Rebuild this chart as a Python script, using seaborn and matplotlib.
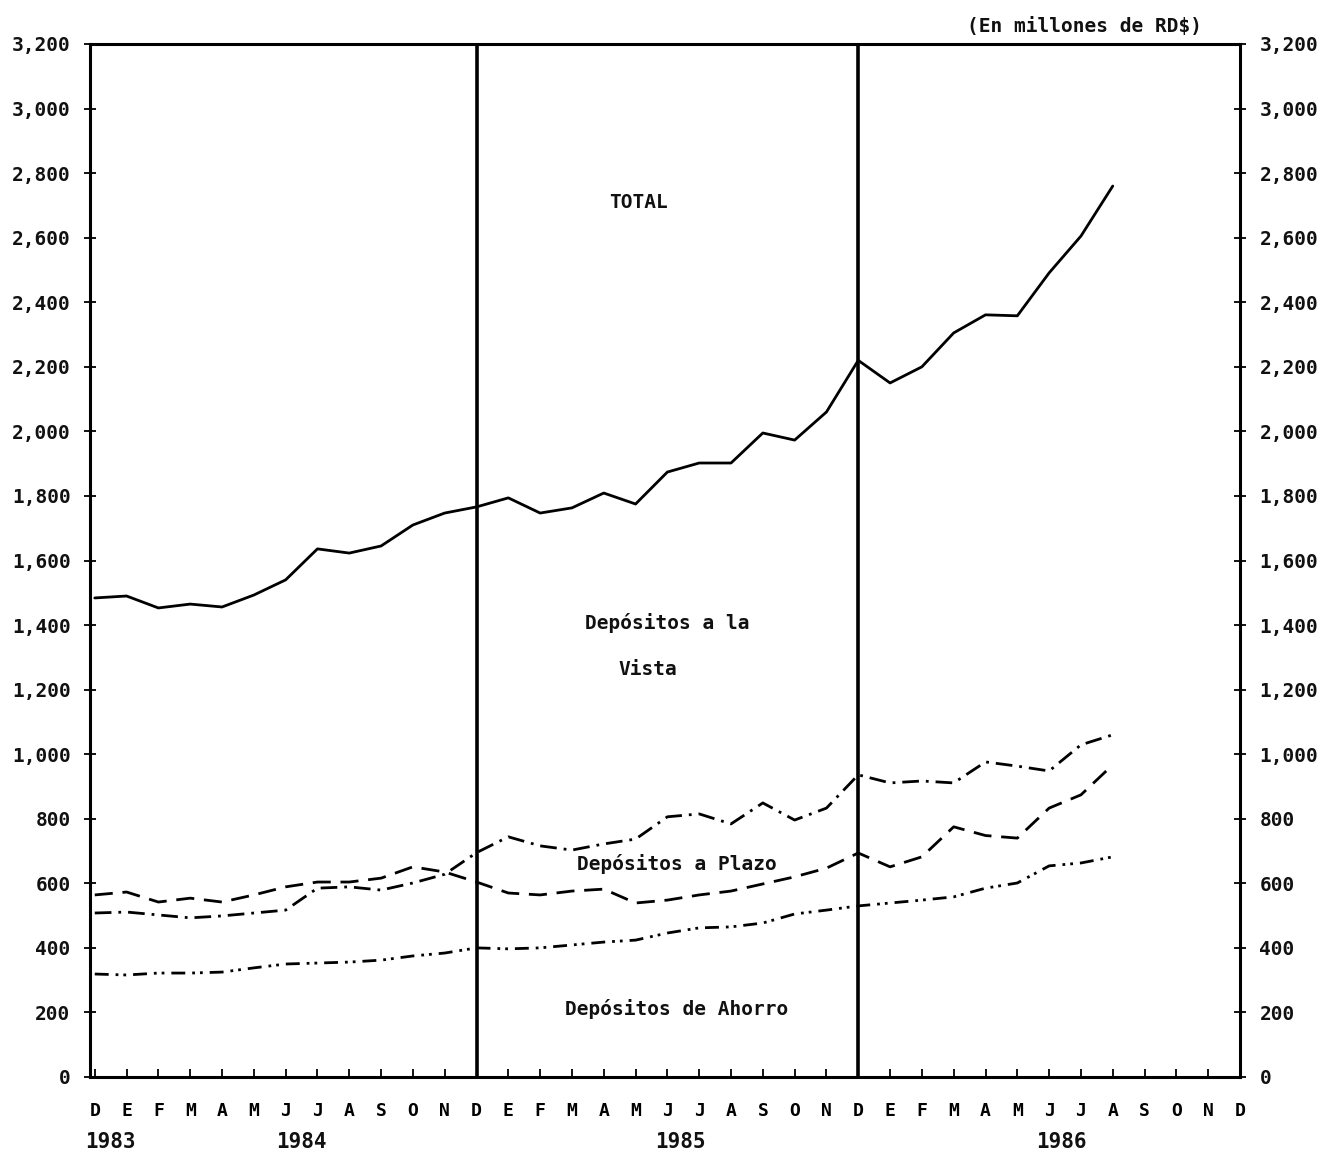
import matplotlib
matplotlib.use("Agg")
import matplotlib.pyplot as plt
import matplotlib.transforms as mtransforms
import seaborn as sns
import pandas as pd
import numpy as np

# ---- data (millions RD$), monthly Dec 1983 .. Aug 1986 ----
month_labels = ['D'] + ['E', 'F', 'M', 'A', 'M', 'J', 'J', 'A', 'S', 'O', 'N', 'D'] * 3
year_labels = ['1983', '1984', '1985', '1986']

total = [1484, 1490, 1453, 1465, 1456, 1493, 1540, 1636, 1623, 1645, 1710, 1747, 1766,
         1794, 1747, 1763, 1809, 1775, 1874, 1902, 1902, 1995, 1973, 2060, 2220,
         2150, 2200, 2305, 2361, 2358, 2491, 2605, 2760]
vista = [508, 511, 502, 493, 499, 508, 517, 585, 589, 579, 601, 628, 695,
         744, 716, 703, 722, 737, 806, 815, 784, 849, 796, 833, 936,
         911, 917, 911, 976, 963, 948, 1029, 1060]
plazo = [564, 573, 542, 554, 542, 564, 589, 604, 604, 616, 651, 635, 604,
         570, 564, 576, 582, 539, 548, 564, 576, 598, 620, 647, 694,
         651, 682, 775, 748, 740, 833, 874, 967]
ahorro = [319, 316, 322, 322, 325, 338, 350, 353, 356, 362, 375, 384, 400,
          397, 400, 409, 418, 424, 446, 462, 465, 477, 505, 517, 530,
          539, 548, 558, 585, 601, 654, 663, 682]
y_ticks = list(range(0, 3201, 200))

df = pd.DataFrame({'mes': np.arange(len(total)), 'total': total, 'vista': vista,
                   'plazo': plazo, 'ahorro': ahorro})

sns.set_theme(style='white')
plt.rcParams['font.family'] = ['DejaVu Sans Mono', 'DejaVu Sans']
plt.rcParams['font.weight'] = 'bold'

fig = plt.figure(figsize=(13.29, 11.57), dpi=100)
ax = fig.add_axes([90 / 1329, 1 - 1077 / 1157, 1150 / 1329, 1033 / 1157])

lw = 2.0
sns.lineplot(data=df, x='mes', y='total', ax=ax, color='black', lw=lw)
sns.lineplot(data=df, x='mes', y='vista', ax=ax, color='black', lw=lw,
             linestyle=(0, (6, 2.5, 1, 2.5)))
sns.lineplot(data=df, x='mes', y='plazo', ax=ax, color='black', lw=lw,
             linestyle=(0, (6.5, 3.5)))
sns.lineplot(data=df, x='mes', y='ahorro', ax=ax, color='black', lw=lw,
             linestyle=(0, (5, 2.5, 1, 1.8, 1, 2.5)))

# dividers between years
for xv in [12, 24]:
    ax.axvline(xv, color='black', lw=2.6)

ax.set_xlim(-0.15, 36)
ax.set_ylim(0, 3200)
ax.set_xlabel('')
ax.set_ylabel('')

ax.set_xticks(range(len(month_labels)))
ax.set_xticklabels(month_labels, fontsize=13, fontweight='bold')
ax.set_yticks(y_ticks)
ax.set_yticklabels([f'{v:,}' for v in y_ticks], fontsize=14, fontweight='bold')

ax.tick_params(axis='x', direction='in', length=6, width=1.3, pad=18, bottom=True, colors='black')
ax.tick_params(axis='y', direction='inout', length=8, width=1.3, left=True, right=True,
               labelleft=True, labelright=True, pad=10, colors='black')
for lab in ax.get_yticklabels():
    lab.set_color('#111111')

for s in ax.spines.values():
    s.set_color('black')
    s.set_linewidth(2.2)

# year labels below month letters
trans = mtransforms.blended_transform_factory(ax.transData, ax.transAxes)
year_pos = [0.5, 6.5, 18.4, 30.4]
for xp, yl in zip(year_pos, year_labels):
    ax.text(xp, -0.063, yl, transform=trans, ha='center', va='center',
            fontsize=15, fontweight='bold', color='#111111')

# annotations
tk = dict(ha='center', va='center', fontsize=14, fontweight='bold', color='#111111')
ax.text(17.1, 2708, 'TOTAL', **tk)
ax.text(18.0, 1406, 'Depósitos a la', **tk)
ax.text(17.4, 1261, 'Vista', **tk)
ax.text(18.3, 660, 'Depósitos a Plazo', **tk)
ax.text(18.3, 211, 'Depósitos de Ahorro', **tk)

ax.text(0.865, 1.017, '(En millones de RD$)', transform=ax.transAxes, ha='center',
        va='center', fontsize=14, fontweight='bold', color='#111111')

fig.savefig('out.png', dpi=100, facecolor='white')
